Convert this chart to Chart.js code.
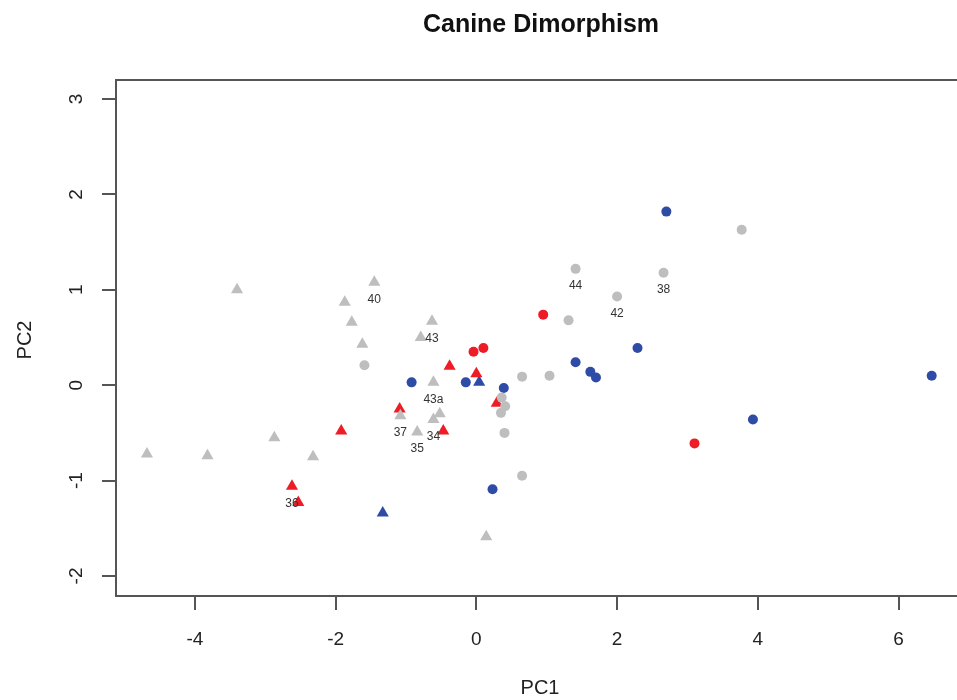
<!DOCTYPE html>
<html>
<head>
<meta charset="utf-8">
<script src="https://cdn.jsdelivr.net/npm/chart.js@4.4.1/dist/chart.umd.min.js"></script>
<style>
  html, body { margin: 0; padding: 0; background: #fff; }
  #grafico { display: block; }
</style>
</head>
<body>
<canvas id="grafico" width="957" height="700"></canvas>
<script>
// datos (PC1, PC2)
const grisTriangulos = [
  {x: -4.68, y: -0.72}, {x: -3.82, y: -0.74}, {x: -3.40, y: 1.00}, {x: -2.87, y: -0.55},
  {x: -2.32, y: -0.75}, {x: -1.87, y: 0.87}, {x: -1.77, y: 0.66}, {x: -1.62, y: 0.43},
  {x: -1.45, y: 1.08}, {x: -0.63, y: 0.67}, {x: -0.79, y: 0.50}, {x: -0.61, y: 0.03},
  {x: -1.08, y: -0.32}, {x: -0.52, y: -0.30}, {x: -0.61, y: -0.36}, {x: -0.84, y: -0.49},
  {x: 0.14, y: -1.59}
];
const grisCirculos = [
  {x: -1.59, y: 0.21}, {x: 0.65, y: 0.09}, {x: 1.04, y: 0.10}, {x: 0.36, y: -0.13},
  {x: 0.41, y: -0.22}, {x: 0.35, y: -0.29}, {x: 0.40, y: -0.50}, {x: 0.65, y: -0.95},
  {x: 1.41, y: 1.22}, {x: 1.31, y: 0.68}, {x: 2.00, y: 0.93}, {x: 2.66, y: 1.18},
  {x: 3.77, y: 1.63}
];
const rojoTriangulos = [
  {x: -1.92, y: -0.48}, {x: -2.62, y: -1.06}, {x: -2.53, y: -1.23}, {x: -1.09, y: -0.25},
  {x: -0.38, y: 0.20}, {x: 0.00, y: 0.12}, {x: 0.29, y: -0.19}, {x: -0.47, y: -0.48}
];
const rojoCirculos = [
  {x: -0.04, y: 0.35}, {x: 0.10, y: 0.39}, {x: 0.95, y: 0.74}, {x: 3.10, y: -0.61}
];
const azulTriangulos = [
  {x: -1.33, y: -1.34}, {x: 0.04, y: 0.03}
];
const azulCirculos = [
  {x: -0.92, y: 0.03}, {x: -0.15, y: 0.03}, {x: 0.39, y: -0.03}, {x: 0.23, y: -1.09},
  {x: 1.41, y: 0.24}, {x: 1.62, y: 0.14}, {x: 1.70, y: 0.08}, {x: 2.29, y: 0.39},
  {x: 2.70, y: 1.82}, {x: 6.47, y: 0.10}, {x: 3.93, y: -0.36}
];
// etiquetas de especímenes
const etiquetas = [
  {x: -1.45, y: 1.08, texto: '40'}, {x: -0.63, y: 0.67, texto: '43'},
  {x: -0.61, y: 0.03, texto: '43a'}, {x: -1.08, y: -0.32, texto: '37'},
  {x: -0.61, y: -0.36, texto: '34'}, {x: -0.84, y: -0.49, texto: '35'},
  {x: -2.62, y: -1.06, texto: '36'}, {x: 1.41, y: 1.22, texto: '44'},
  {x: 2.00, y: 0.93, texto: '42'}, {x: 2.66, y: 1.18, texto: '38'}
];
const ticksX = [-4, -2, 0, 2, 4, 6];
const ticksY = [-2, -1, 0, 1, 2, 3];

const GRIS = '#bebebe', ROJO = '#ee1c25', AZUL = '#2e4ba6';
const FUENTE = '"Liberation Sans", Arial, Helvetica, sans-serif';

function serie(datos, color, forma) {
  return {
    data: datos,
    backgroundColor: color,
    borderColor: color,
    borderWidth: 0,
    pointStyle: forma,
    pointRadius: forma === 'triangle' ? 7 : 5,
    pointHoverRadius: forma === 'triangle' ? 7 : 5
  };
}

const textos = {
  id: 'textos',
  afterDatasetsDraw(chart) {
    const ctx = chart.ctx;
    const sx = chart.scales.x, sy = chart.scales.y;
    const area = chart.chartArea;
    ctx.save();
    // caja del gráfico (lado derecho fuera del lienzo)
    ctx.strokeStyle = '#555';
    ctx.lineWidth = 2;
    ctx.beginPath();
    ctx.moveTo(chart.width + 2, area.top);
    ctx.lineTo(area.left, area.top);
    ctx.lineTo(area.left, area.bottom);
    ctx.lineTo(chart.width + 2, area.bottom);
    ctx.stroke();

    // etiquetas de puntos
    ctx.fillStyle = '#333';
    ctx.font = '12px ' + FUENTE;
    ctx.textAlign = 'center';
    ctx.textBaseline = 'middle';
    etiquetas.forEach(e => {
      ctx.fillText(e.texto, sx.getPixelForValue(e.x), sy.getPixelForValue(e.y) + 17);
    });

    // etiquetas del eje Y (rotadas como en R)
    ctx.fillStyle = '#222';
    ctx.font = '19px ' + FUENTE;
    sy.ticks.forEach(t => {
      ctx.save();
      ctx.translate(77, sy.getPixelForValue(t.value));
      ctx.rotate(-Math.PI / 2);
      ctx.fillText(String(t.value), 0, 0);
      ctx.restore();
    });

    // títulos
    ctx.fillStyle = '#111';
    ctx.font = 'bold 25px ' + FUENTE;
    ctx.fillText('Canine Dimorphism', 541, 25);
    ctx.font = '20px ' + FUENTE;
    ctx.fillStyle = '#222';
    ctx.fillText('PC1', 540, 688);
    ctx.save();
    ctx.translate(25, 340);
    ctx.rotate(-Math.PI / 2);
    ctx.fillText('PC2', 0, 0);
    ctx.restore();
    ctx.restore();
  }
};

new Chart(document.getElementById('grafico'), {
  type: 'scatter',
  data: {
    datasets: [
      serie(grisTriangulos, GRIS, 'triangle'),
      serie(grisCirculos, GRIS, 'circle'),
      serie(rojoTriangulos, ROJO, 'triangle'),
      serie(rojoCirculos, ROJO, 'circle'),
      serie(azulTriangulos, AZUL, 'triangle'),
      serie(azulCirculos, AZUL, 'circle')
    ]
  },
  options: {
    responsive: false,
    animation: false,
    devicePixelRatio: 1,
    layout: {padding: {top: 80, right: 0, bottom: 0, left: 0}},
    plugins: {legend: {display: false}, tooltip: {enabled: false}, title: {display: false}},
    scales: {
      x: {
        type: 'linear',
        min: -5.12,
        max: 6.73,
        afterBuildTicks: s => { s.ticks = ticksX.map(v => ({value: v})); },
        afterFit: s => { s.height = 104; },
        border: {display: false},
        grid: {drawOnChartArea: false, drawTicks: true, tickLength: 14, color: '#555', lineWidth: 2},
        ticks: {color: '#222', font: {size: 19, family: FUENTE}, padding: 18, maxRotation: 0}
      },
      y: {
        type: 'linear',
        min: -2.21,
        max: 3.2,
        afterBuildTicks: s => { s.ticks = ticksY.map(v => ({value: v})); },
        afterFit: s => { s.width = 116; },
        border: {display: false},
        grid: {drawOnChartArea: false, drawTicks: true, tickLength: 14, color: '#555', lineWidth: 2},
        ticks: {display: false}
      }
    }
  },
  plugins: [textos]
});
</script>
</body>
</html>
